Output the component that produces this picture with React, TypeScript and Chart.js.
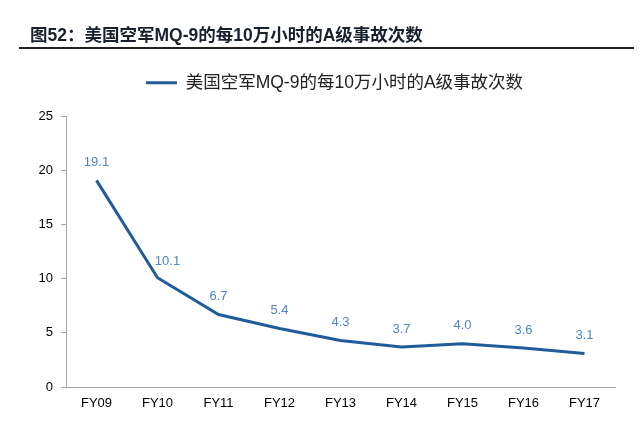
import React, { useEffect, useRef } from "react";
import { Chart, registerables } from "chart.js";

Chart.register(...registerables);

const categories = ["FY09", "FY10", "FY11", "FY12", "FY13", "FY14", "FY15", "FY16", "FY17"];
const accidentRates = [19.1, 10.1, 6.7, 5.4, 4.3, 3.7, 4.0, 3.6, 3.1];
const valueLabels = ["19.1", "10.1", "6.7", "5.4", "4.3", "3.7", "4.0", "3.6", "3.1"];
const yTicks = [0, 5, 10, 15, 20, 25];
const seriesName = "美国空军MQ-9的每10万小时的A级事故次数";
const figureTitle = "图52：美国空军MQ-9的每10万小时的A级事故次数";

const FONT = "'Liberation Sans', 'Noto Sans CJK SC', sans-serif";
const LINE_COLOR = "#1f5c99";
const LABEL_COLOR = "#4f86c6";

export default function App() {
  const ref = useRef<HTMLCanvasElement | null>(null);

  useEffect(() => {
    if (!ref.current) return;

    const titlePlugin = {
      id: "figTitle",
      afterDraw(chart: any) {
        const ctx = chart.ctx;
        ctx.save();
        ctx.font = `bold 17.5px ${FONT}`;
        ctx.fillStyle = "#18202e";
        ctx.textBaseline = "middle";
        ctx.textAlign = "left";
        ctx.fillText(figureTitle, 30, 36);
        ctx.fillStyle = "#222222";
        ctx.fillRect(19, 47, 615, 2);
        ctx.restore();
      },
    };

    const legendGap = {
      id: "legendGap",
      beforeUpdate(chart: any) {
        const lg = chart.legend;
        if (lg && !lg.__patched) {
          lg.__patched = true;
          const orig = lg.fit.bind(lg);
          lg.fit = () => {
            orig();
            lg.height += 15;
          };
        }
      },
      afterLayout(chart: any) {
        const lg = chart.legend;
        if (lg) {
          lg.left -= 6;
          lg.right -= 6;
        }
      },
    };

    const valueLabelPlugin = {
      id: "valueLabels",
      afterDatasetsDraw(chart: any) {
        const ctx = chart.ctx;
        const meta = chart.getDatasetMeta(0);
        ctx.save();
        ctx.font = `13px ${FONT}`;
        ctx.fillStyle = LABEL_COLOR;
        ctx.textAlign = "center";
        ctx.textBaseline = "middle";
        meta.data.forEach((pt: any, i: number) => {
          // the second label sits nudged to the right of its point in the source
          const dx = i === 1 ? 10 : 0;
          const dy = i === 1 ? 16 : 18;
          ctx.fillText(valueLabels[i], pt.x + dx, pt.y - dy);
        });
        ctx.restore();
      },
    };

    const chart = new Chart(ref.current, {
      type: "line",
      data: {
        labels: categories,
        datasets: [
          {
            label: seriesName,
            data: accidentRates,
            borderColor: LINE_COLOR,
            backgroundColor: LINE_COLOR,
            borderWidth: 3,
            pointRadius: 0,
            pointHoverRadius: 0,
            tension: 0,
            fill: false,
          },
        ],
      },
      options: {
        responsive: false,
        animation: false,
        layout: { padding: { top: 70, left: 0, right: 25, bottom: 0 } },
        plugins: {
          legend: {
            display: true,
            position: "top",
            fullSize: false,
            labels: {
              usePointStyle: true,
              pointStyle: "line",
              pointStyleWidth: 31,
              boxHeight: 3,
              padding: 4,
              color: "#222222",
              font: { family: FONT, size: 17.5 },
            },
          },
          tooltip: { enabled: false },
          title: { display: false },
        },
        scales: {
          x: {
            type: "category",
            offset: true,
            grid: { display: false, drawTicks: false },
            border: { display: true, color: "#a6a6a6", width: 1 },
            ticks: {
              color: "#000000",
              padding: 9,
              maxRotation: 0,
              autoSkip: false,
              font: { family: FONT, size: 13 },
            },
            afterFit: (scale: any) => {
              scale.height = 34;
            },
          },
          y: {
            min: 0,
            max: 25,
            afterBuildTicks: (scale: any) => {
              scale.ticks = yTicks.map((v) => ({ value: v }));
            },
            grid: {
              display: true,
              drawOnChartArea: false,
              drawTicks: true,
              tickLength: 5,
              color: "#a6a6a6",
            },
            border: { display: true, color: "#a6a6a6", width: 1 },
            ticks: {
              color: "#000000",
              padding: 8,
              font: { family: FONT, size: 13 },
            },
            afterFit: (scale: any) => {
              scale.width = 66;
            },
          },
        },
      },
      plugins: [legendGap, valueLabelPlugin, titlePlugin],
    });

    return () => chart.destroy();
  }, []);

  return (
    <div style={{ position: "absolute", left: 0, top: 0, width: 640, height: 421, background: "#ffffff" }}>
      <canvas ref={ref} width={640} height={421} style={{ display: "block", width: 640, height: 421 }} />
    </div>
  );
}
